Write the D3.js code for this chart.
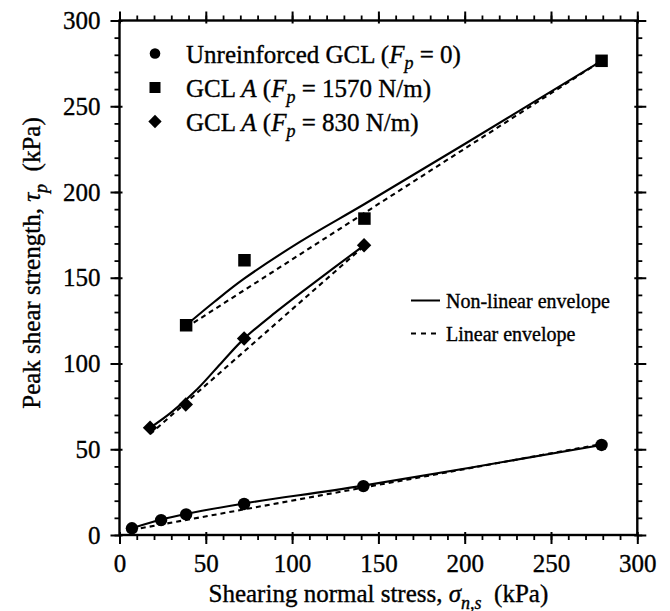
<!DOCTYPE html>
<html>
<head>
<meta charset="utf-8">
<script src="https://cdn.jsdelivr.net/npm/d3@7/dist/d3.min.js"></script>
<style>
  html, body { margin: 0; padding: 0; background: #fff; }
  svg text { font-family: "Liberation Serif", "Times New Roman", serif; fill: #000; stroke: #000; stroke-width: 0.35px; white-space: pre; }
</style>
</head>
<body>
<svg id="chart" width="670" height="611"></svg>
<script>
// ---- tick values ----
const xMajorTicks = [0, 50, 100, 150, 200, 250, 300];
const yMajorTicks = [0, 50, 100, 150, 200, 250, 300];
const xMinorTicks = d3.range(0, 301, 10);
const yMinorTicks = d3.range(0, 301, 10);

// ---- measured peak strengths (sigma in kPa, tau in kPa) ----
const sigmaUnreinforced = [7.2, 24.1, 38.6, 72.2, 141.3, 279.3];
const tauUnreinforced   = [3.9, 8.7, 12.0, 18.1, 28.5, 52.5];

const sigmaFp1570 = [38.6, 72.4, 141.9, 279.3];
const tauFp1570   = [122.3, 160.2, 184.5, 276.5];

const sigmaFp830 = [17.7, 38.4, 72.2, 141.7];
const tauFp830   = [62.5, 76.1, 114.6, 168.9];

// ---- non-linear envelopes (sampled along each fitted curve) ----
const nlSigmaUnreinforced = [7.2, 24.1, 38.6, 72.2, 141.3, 279.3];
const nlTauUnreinforced   = [3.9, 9.0, 12.3, 18.4, 28.8, 52.5];

const nlSigmaFp1570 = [38.6, 55, 72, 104.5, 142, 200, 279.3];
const nlTauFp1570   = [122.3, 136, 149.3, 170.9, 193, 228, 276.5];

const nlSigmaFp830 = [17.7, 30, 45, 60, 72.2, 90, 110, 141.7];
const nlTauFp830   = [62.5, 71.5, 85.0, 101.5, 114.5, 129.5, 145.0, 168.9];

// ---- linear envelopes (end points of each straight fit) ----
const linSigmaUnreinforced = [7.2, 279.3];
const linTauUnreinforced   = [3.0, 53.0];

const linSigmaFp1570 = [38.6, 279.3];
const linTauFp1570   = [121.0, 276.5];

const linSigmaFp830 = [17.7, 141.7];
const linTauFp830   = [58.8, 168.5];

// ---- scales ----
const x = d3.scaleLinear().domain([0, 300]).range([119.5, 637.3]);
const y = d3.scaleLinear().domain([0, 300]).range([535, 20.5]);

const svg = d3.select("#chart");
const FONT = 25;

// ---- axes: ticks point outward, majors poke slightly inside ----
function styleAxis(g, width) {
  g.select(".domain").remove();
  g.selectAll("line").attr("stroke", "#000").attr("stroke-width", width);
}

// bottom
const gBottomMinor = svg.append("g").attr("transform", `translate(0,${y(0)})`)
  .call(d3.axisBottom(x).tickValues(xMinorTicks).tickSize(5).tickFormat(""));
styleAxis(gBottomMinor, 1.8);
const gBottom = svg.append("g").attr("transform", `translate(0,${y(0)})`)
  .call(d3.axisBottom(x).tickValues(xMajorTicks).tickSize(9).tickPadding(10).tickFormat(d3.format("d")));
styleAxis(gBottom, 2);
gBottom.selectAll("line").attr("y1", -3);
gBottom.selectAll("text").attr("font-size", FONT).attr("font-family", null).attr("dy", "0.71em");

// top
const gTopMinor = svg.append("g").attr("transform", `translate(0,${y(300)})`)
  .call(d3.axisTop(x).tickValues(xMinorTicks).tickSize(5).tickFormat(""));
styleAxis(gTopMinor, 1.8);
const gTop = svg.append("g").attr("transform", `translate(0,${y(300)})`)
  .call(d3.axisTop(x).tickValues(xMajorTicks).tickSize(9).tickFormat(""));
styleAxis(gTop, 2);
gTop.selectAll("line").attr("y1", 3);

// left
const gLeftMinor = svg.append("g").attr("transform", `translate(${x(0)},0)`)
  .call(d3.axisLeft(y).tickValues(yMinorTicks).tickSize(5).tickFormat(""));
styleAxis(gLeftMinor, 1.8);
const gLeft = svg.append("g").attr("transform", `translate(${x(0)},0)`)
  .call(d3.axisLeft(y).tickValues(yMajorTicks).tickSize(9).tickPadding(10).tickFormat(d3.format("d")));
styleAxis(gLeft, 2);
gLeft.selectAll("line").attr("x1", 3);
gLeft.selectAll("text").attr("font-size", FONT).attr("font-family", null);

// right
const gRightMinor = svg.append("g").attr("transform", `translate(${x(300)},0)`)
  .call(d3.axisRight(y).tickValues(yMinorTicks).tickSize(5).tickFormat(""));
styleAxis(gRightMinor, 1.8);
const gRight = svg.append("g").attr("transform", `translate(${x(300)},0)`)
  .call(d3.axisRight(y).tickValues(yMajorTicks).tickSize(9).tickFormat(""));
styleAxis(gRight, 2);
gRight.selectAll("line").attr("x1", -3);

// frame
svg.append("rect")
  .attr("x", x(0)).attr("y", y(300))
  .attr("width", x(300) - x(0)).attr("height", y(0) - y(300))
  .attr("fill", "none").attr("stroke", "#000").attr("stroke-width", 2.4);

// ---- envelopes ----
const curve = d3.line().x(d => x(d[0])).y(d => y(d[1])).curve(d3.curveCatmullRom.alpha(0.5));
const zip = (a, b) => a.map((v, i) => [v, b[i]]);

const nonLinear = [
  zip(nlSigmaUnreinforced, nlTauUnreinforced),
  zip(nlSigmaFp1570, nlTauFp1570),
  zip(nlSigmaFp830, nlTauFp830)
];
const linear = [
  zip(linSigmaUnreinforced, linTauUnreinforced),
  zip(linSigmaFp1570, linTauFp1570),
  zip(linSigmaFp830, linTauFp830)
];

svg.append("g").selectAll("path").data(linear).join("path")
  .attr("d", curve).attr("fill", "none").attr("stroke", "#000")
  .attr("stroke-width", 2.1).attr("stroke-dasharray", "5,4");
svg.append("g").selectAll("path").data(nonLinear).join("path")
  .attr("d", curve).attr("fill", "none").attr("stroke", "#000")
  .attr("stroke-width", 2.1);

// ---- markers ----
const circleSym = d3.symbol().type(d3.symbolCircle).size(Math.PI * 6.2 * 6.2);
const squareSym = d3.symbol().type(d3.symbolSquare).size(12.5 * 12.5);
const diamondSym = d3.symbol().type(d3.symbolSquare).size(10.2 * 10.2);

function drawPoints(xs, ys, sym, rot) {
  svg.append("g").selectAll("path").data(zip(xs, ys)).join("path")
    .attr("d", sym)
    .attr("transform", d => `translate(${x(d[0])},${y(d[1])}) rotate(${rot})`)
    .attr("fill", "#000");
}
drawPoints(sigmaUnreinforced, tauUnreinforced, circleSym, 0);
drawPoints(sigmaFp1570, tauFp1570, squareSym, 0);
drawPoints(sigmaFp830, tauFp830, diamondSym, 45);

// ---- legend: specimens ----
const legendSpecimens = [
  { sym: d3.symbol().type(d3.symbolCircle).size(Math.PI * 5.3 * 5.3)(), rot: 0,
    parts: [["Unreinforced GCL (", ""], ["F", "i"], ["p", "s"], [" = 0)", ""]] },
  { sym: d3.symbol().type(d3.symbolSquare).size(11 * 11)(), rot: 0,
    parts: [["GCL ", ""], ["A", "i"], [" (", ""], ["F", "i"], ["p", "s"], [" = 1570 N/m)", ""]] },
  { sym: d3.symbol().type(d3.symbolSquare).size(9.4 * 9.4)(), rot: 45,
    parts: [["GCL ", ""], ["A", "i"], [" (", ""], ["F", "i"], ["p", "s"], [" = 830 N/m)", ""]] }
];

function richText(sel, parts, size) {
  let shifted = false;
  parts.forEach(([t, kind]) => {
    const ts = sel.append("tspan").text(t);
    if (kind === "i" || kind === "s") ts.attr("font-style", "italic");
    if (kind === "s") { ts.attr("font-size", size * 0.72).attr("dy", size * 0.26); shifted = true; }
    else if (shifted) { ts.attr("dy", -size * 0.26); shifted = false; }
  });
}

legendSpecimens.forEach((row, i) => {
  const cy = 53.5 + i * 34;
  svg.append("path").attr("d", row.sym)
    .attr("transform", `translate(155,${cy}) rotate(${row.rot})`).attr("fill", "#000");
  const t = svg.append("text").attr("x", 186).attr("y", cy + 9).attr("font-size", FONT);
  richText(t, row.parts, FONT);
});

// ---- legend: envelope types ----
const legendEnvelopes = [
  { label: "Non-linear envelope", dash: null },
  { label: "Linear envelope", dash: "5,5" }
];
legendEnvelopes.forEach((row, i) => {
  const cy = 300.5 + i * 33;
  svg.append("line").attr("x1", 411).attr("x2", 440).attr("y1", cy).attr("y2", cy)
    .attr("stroke", "#000").attr("stroke-width", 2)
    .attr("stroke-dasharray", row.dash);
  svg.append("text").attr("x", 446).attr("y", cy + 7).attr("font-size", 20).text(row.label);
});

// ---- axis titles ----
const xTitle = svg.append("text")
  .attr("x", (x(0) + x(300)) / 2).attr("y", 602)
  .attr("text-anchor", "middle").attr("font-size", FONT);
richText(xTitle, [["Shearing normal stress, ", ""], ["σ", "i"], ["n,s", "s"], ["  (kPa)", ""]], FONT);

const yTitle = svg.append("text")
  .attr("transform", "translate(40,263) rotate(-90)")
  .attr("text-anchor", "middle").attr("font-size", FONT);
richText(yTitle, [["Peak shear strength, ", ""], ["τ", "i"], ["p", "s"], ["  (kPa)", ""]], FONT);
</script>
</body>
</html>
